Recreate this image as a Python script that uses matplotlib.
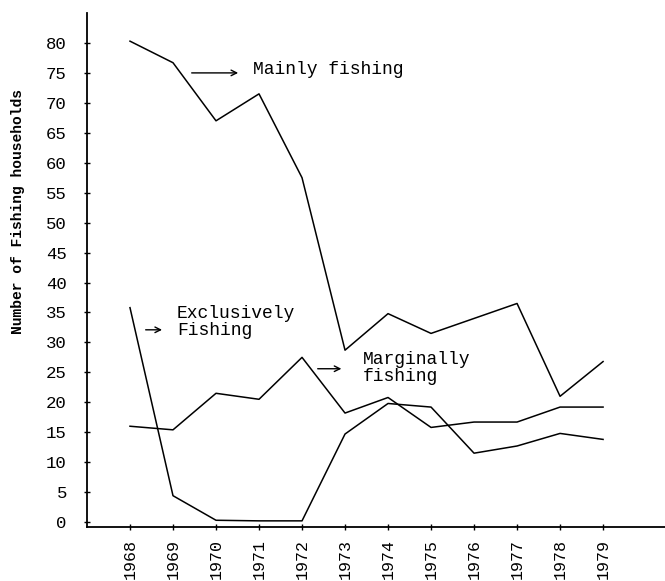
import matplotlib
matplotlib.use('Agg')
import matplotlib.pyplot as plt

years = [1968, 1969, 1970, 1971, 1972, 1973, 1974, 1975, 1976, 1977, 1978, 1979]
mainly = [80.3, 76.7, 67.0, 71.5, 57.5, 28.7, 34.8, 31.5, 34.0, 36.5, 21.0, 26.8]
marginally = [16.0, 15.4, 21.5, 20.5, 27.5, 18.2, 20.8, 15.8, 16.7, 16.7, 19.2, 19.2]
exclusively = [35.8, 4.4, 0.3, 0.2, 0.2, 14.7, 19.8, 19.2, 11.5, 12.7, 14.8, 13.8]
yticks = list(range(0, 85, 5))

mono = 'Liberation Mono'

fig = plt.figure(figsize=(6.65, 5.81), dpi=100)
ax = fig.add_axes([0.1308, 0.0929, 0.8692, 0.8847])

for series in (mainly, marginally, exclusively):
    ax.plot(years, series, 'k-', lw=1.1)

ax.set_xlim(1967, 1980.44)
ax.set_ylim(-0.83, 85.0)
ax.set_xticks(years)
ax.set_xticklabels([str(y) for y in years], rotation=90, family=mono,
                   fontsize=12)
ax.set_yticks(yticks)
ax.set_yticklabels([str(t) for t in yticks], family=mono, fontsize=12.5)
ax.tick_params(axis='y', direction='inout', length=5, width=1, pad=12)
ax.tick_params(axis='x', direction='inout', length=5, width=1, pad=6)

for s in ('top', 'right'):
    ax.spines[s].set_visible(False)
ax.spines['left'].set_linewidth(1.3)
ax.spines['bottom'].set_linewidth(1.3)

ax.set_ylabel('Number of Fishing households', family=mono, fontsize=10.5,
              fontweight='bold')
ax.yaxis.set_label_coords(-0.107, 0.613)

arrow = dict(arrowstyle='->', color='k', lw=1.0)
ax.annotate('', xy=(1970.58, 75.0), xytext=(1969.37, 75.0), arrowprops=arrow)
ax.text(1970.86, 75.5, 'Mainly fishing', family=mono, fontsize=13, va='center')

ax.annotate('', xy=(1968.81, 32.1), xytext=(1968.30, 32.1), arrowprops=arrow)
ax.text(1969.09, 33.4, 'Exclusively\nFishing', family=mono, fontsize=13,
        va='center', linespacing=1.0)

ax.annotate('', xy=(1972.98, 25.6), xytext=(1972.30, 25.6), arrowprops=arrow)
ax.text(1973.42, 25.7, 'Marginally\nfishing', family=mono, fontsize=13,
        va='center', linespacing=1.0)

fig.savefig('out.png', dpi=100)
